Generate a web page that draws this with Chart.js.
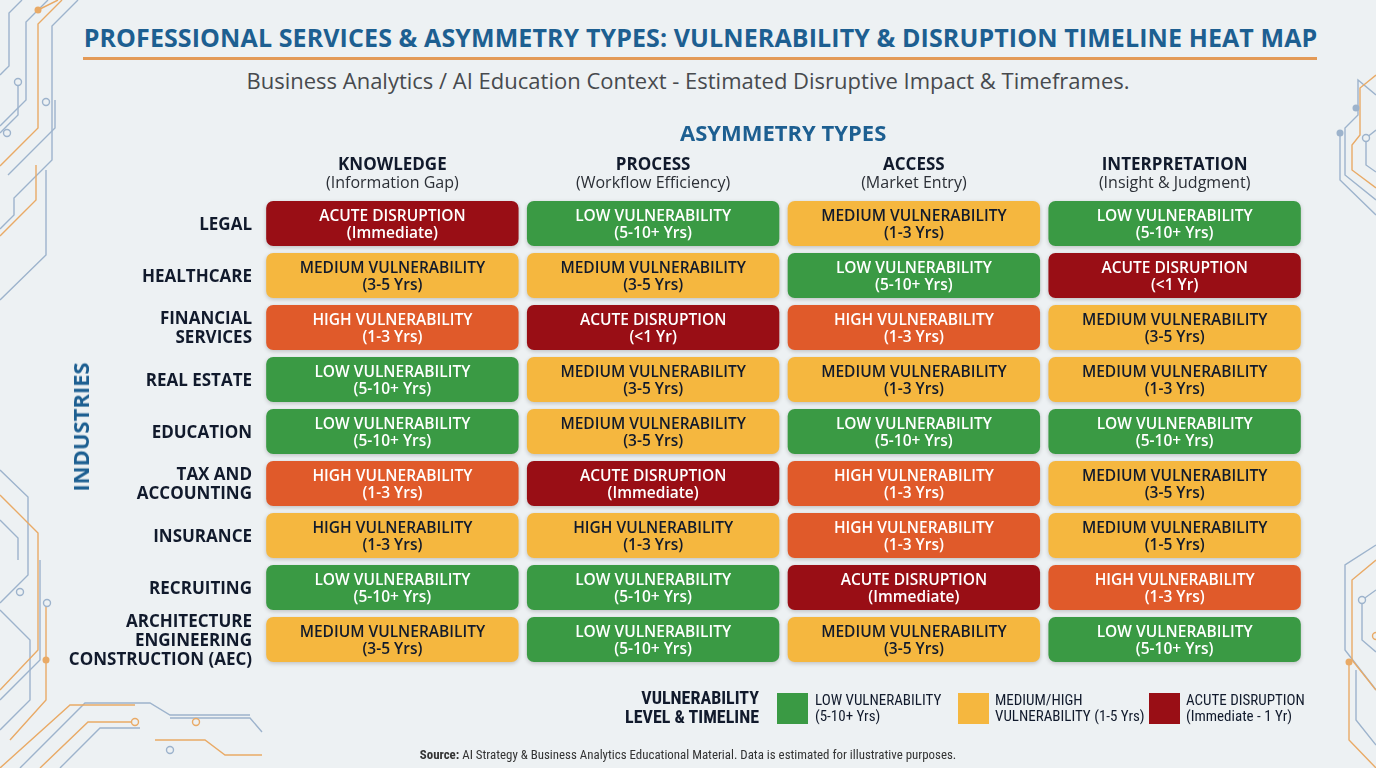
<!DOCTYPE html>
<html>
<head>
<meta charset="utf-8">
<script src="https://cdn.jsdelivr.net/npm/chart.js@4.4.1/dist/chart.umd.min.js"></script>
<style>
  html, body { margin: 0; padding: 0; }
  body { width: 1376px; height: 768px; overflow: hidden; background: #edf1f3; font-family: "Open Sans", sans-serif; }
  #page { position: relative; width: 1376px; height: 768px; }
  #deco { position: absolute; left: 0; top: 0; }
  #heat { position: absolute; left: 0; top: 0; }
  .abs { position: absolute; white-space: nowrap; }
  .title { left: 83px; width: 1235px; top: 20px; text-align: center; font-weight: 700; font-size: 25px; color: #1d5f91; letter-spacing: 0.1px; }
  .rule { left: 83px; top: 57px; width: 1234px; height: 3px; background: #e39a57; }
  .subtitle { left: 0; width: 1376px; top: 65px; text-align: center; font-size: 22px; color: #474a4e; }
  .axis-title { font-weight: 700; font-size: 22px; color: #1d5f91; }
  .legend-title { right: 617px; top: 688px; text-align: right; font-family: "Liberation Sans Narrow", "Roboto Condensed", Roboto, sans-serif; font-weight: 700; font-size: 18px; line-height: 19px; color: #111a2c; }
  .sw { position: absolute; width: 31px; height: 31px; top: 693px; }
  .lt { top: 692px; font-family: "Liberation Sans Narrow", "Roboto Condensed", Roboto, sans-serif; font-size: 15px; line-height: 16px; color: #111a2c; }
  .source { left: 0; width: 1376px; top: 747px; text-align: center; font-family: "Liberation Sans Narrow", "Roboto Condensed", Roboto, sans-serif; font-size: 12.9px; color: #333; }
</style>
</head>
<body>
<div id="page">
  <svg id="deco" width="1376" height="768" fill="none" stroke-width="1.4">
    <g stroke="#9db3cc">
      <path d="M48 0 L26 22 L26 100 L0 126" />
      <path d="M22 0 L9 13 L9 66 L0 75" />
      <path d="M78 0 L52 26 L52 160 L14 198 L14 215 L0 229" />
      <path d="M18 82 L18 115 L0 133" />
      <path d="M55 100 L55 128 L8 175" />
      <path d="M46 170 L46 255 L0 300" />
      <path d="M0 470 L28 497 L28 575 L0 603" />
      <path d="M0 520 L18 538 L18 560" />
      <path d="M0 610 L30 640 L30 700 L0 730" />
      <path d="M40 560 L40 660 L0 700" />
      <path d="M20 768 L85 703 L150 703 L170 715 L250 715" />
      <path d="M60 768 L100 728 L140 728" />
      <path d="M170 718 L250 718 L262 732" />
      <path d="M1376 95 L1358 80 L1358 115 L1345 128 L1345 175 L1376 200" />
      <path d="M1376 130 L1366 138 L1366 165 L1376 172" />
      <path d="M1340 133 L1340 180 L1376 215" />
      <path d="M1376 545 L1345 565 L1345 650 L1376 690" />
      <path d="M1376 590 L1362 600 L1362 640 L1376 652" />
      <path d="M1356 670 L1356 720 L1376 745" />
    </g>
    <g stroke="#e9aa66">
      <path d="M62 0 L38 24 L38 128 L0 166" />
      <path d="M38 10 L58 0" />
      <path d="M36 165 L36 200 L0 236" />
      <path d="M0 495 L38 533 L38 650 L0 690" />
      <path d="M46 605 L46 700 L10 740" />
      <path d="M0 768 L70 705 L135 705" />
      <path d="M40 768 L88 722 L135 722" />
      <path d="M155 740 L205 740 L225 755 L262 755" />
      <path d="M1376 75 L1360 88 L1360 135 L1352 145 L1352 170 L1376 188" />
      <path d="M1376 560 L1352 580 L1352 660 L1376 690" />
      <path d="M1349 665 L1349 740 L1376 768" />
    </g>
    <g fill="#edf1f3" stroke="#9db3cc">
      <circle cx="18" cy="82" r="3.5" />
      <circle cx="7" cy="133" r="3.5" />
      <circle cx="46" cy="102" r="3.5" />
      <circle cx="20" cy="592" r="3.5" />
      <circle cx="47" cy="603" r="3.5" />
      <circle cx="170" cy="750" r="3.5" />
      <circle cx="1366" cy="138" r="3.5" />
      <circle cx="1362" cy="600" r="3.5" />
    </g>
    <g fill="#e9aa66" stroke="none">
      <circle cx="38" cy="10" r="3.5" />
      <circle cx="46" cy="660" r="3.5" />
      <circle cx="1349" cy="662" r="3.5" />
    </g>
    <g fill="#9db3cc" stroke="none">
      <circle cx="1356" cy="108" r="3.5" />
      <circle cx="1340" cy="133" r="3.5" />
    </g>
    <g fill="#edf1f3" stroke="#e9aa66">
      <circle cx="135" cy="722" r="3.5" />
      <circle cx="196" cy="722" r="3.5" />
      <circle cx="1376" cy="636" r="3.5" />
    </g>
  </svg>

  <div class="abs title">PROFESSIONAL SERVICES &amp; ASYMMETRY TYPES: VULNERABILITY &amp; DISRUPTION TIMELINE HEAT MAP</div>
  <div class="abs rule"></div>
  <div class="abs subtitle">Business Analytics / AI Education Context - Estimated Disruptive Impact &amp; Timeframes.</div>

  <canvas id="heat" width="1376" height="768"></canvas>

  <div class="abs axis-title" style="left:680px; top:117px;">ASYMMETRY TYPES</div>
  <div class="abs axis-title" style="left:80px; top:427px; transform: translate(-50%, -50%) rotate(-90deg);">INDUSTRIES</div>

  <div class="abs legend-title">VULNERABILITY<br>LEVEL &amp; TIMELINE</div>
  <div class="sw" id="sw0" style="left:777px;"></div>
  <div class="abs lt" style="left:815px;">LOW VULNERABILITY<br>(5-10+ Yrs)</div>
  <div class="sw" id="sw1" style="left:958px;"></div>
  <div class="abs lt" style="left:995px;">MEDIUM/HIGH<br>VULNERABILITY (1-5 Yrs)</div>
  <div class="sw" id="sw2" style="left:1149px;"></div>
  <div class="abs lt" style="left:1186px;">ACUTE DISRUPTION<br>(Immediate - 1 Yr)</div>

  <div class="abs source"><b>Source:</b> AI Strategy &amp; Business Analytics Educational Material. Data is estimated for illustrative purposes.</div>
</div>

<script>
// rows / columns
const industries = [
  'LEGAL',
  'HEALTHCARE',
  'FINANCIAL\nSERVICES',
  'REAL ESTATE',
  'EDUCATION',
  'TAX AND\nACCOUNTING',
  'INSURANCE',
  'RECRUITING',
  'ARCHITECTURE\nENGINEERING\nCONSTRUCTION (AEC)'
]
const asymmetryTypes = ['KNOWLEDGE', 'PROCESS', 'ACCESS', 'INTERPRETATION']
const asymmetryNotes = ['(Information Gap)', '(Workflow Efficiency)', '(Market Entry)', '(Insight & Judgment)']

// colour level of each cell: 0 low, 1 medium, 2 high, 3 acute
const levelScores = [
  [3, 0, 1, 0],
  [1, 1, 0, 3],
  [2, 3, 2, 1],
  [0, 1, 1, 1],
  [0, 1, 0, 0],
  [2, 3, 2, 1],
  [1, 1, 2, 1],
  [0, 0, 3, 2],
  [1, 0, 1, 0]
]
const ratingLabels = [
  ['ACUTE DISRUPTION', 'LOW VULNERABILITY', 'MEDIUM VULNERABILITY', 'LOW VULNERABILITY'],
  ['MEDIUM VULNERABILITY', 'MEDIUM VULNERABILITY', 'LOW VULNERABILITY', 'ACUTE DISRUPTION'],
  ['HIGH VULNERABILITY', 'ACUTE DISRUPTION', 'HIGH VULNERABILITY', 'MEDIUM VULNERABILITY'],
  ['LOW VULNERABILITY', 'MEDIUM VULNERABILITY', 'MEDIUM VULNERABILITY', 'MEDIUM VULNERABILITY'],
  ['LOW VULNERABILITY', 'MEDIUM VULNERABILITY', 'LOW VULNERABILITY', 'LOW VULNERABILITY'],
  ['HIGH VULNERABILITY', 'ACUTE DISRUPTION', 'HIGH VULNERABILITY', 'MEDIUM VULNERABILITY'],
  ['HIGH VULNERABILITY', 'HIGH VULNERABILITY', 'HIGH VULNERABILITY', 'MEDIUM VULNERABILITY'],
  ['LOW VULNERABILITY', 'LOW VULNERABILITY', 'ACUTE DISRUPTION', 'HIGH VULNERABILITY'],
  ['MEDIUM VULNERABILITY', 'LOW VULNERABILITY', 'MEDIUM VULNERABILITY', 'LOW VULNERABILITY']
]
const timelines = [
  ['(Immediate)', '(5-10+ Yrs)', '(1-3 Yrs)', '(5-10+ Yrs)'],
  ['(3-5 Yrs)', '(3-5 Yrs)', '(5-10+ Yrs)', '(<1 Yr)'],
  ['(1-3 Yrs)', '(<1 Yr)', '(1-3 Yrs)', '(3-5 Yrs)'],
  ['(5-10+ Yrs)', '(3-5 Yrs)', '(1-3 Yrs)', '(1-3 Yrs)'],
  ['(5-10+ Yrs)', '(3-5 Yrs)', '(5-10+ Yrs)', '(5-10+ Yrs)'],
  ['(1-3 Yrs)', '(Immediate)', '(1-3 Yrs)', '(3-5 Yrs)'],
  ['(1-3 Yrs)', '(1-3 Yrs)', '(1-3 Yrs)', '(1-5 Yrs)'],
  ['(5-10+ Yrs)', '(5-10+ Yrs)', '(Immediate)', '(1-3 Yrs)'],
  ['(3-5 Yrs)', '(5-10+ Yrs)', '(3-5 Yrs)', '(5-10+ Yrs)']
]

const levelColors = ['#3a9a44', '#f5b73f', '#e05a2a', '#990e15']
const navy = '#111a2c'
const cellGap = 0.016

document.querySelector('#sw0').style.background = levelColors[0]
document.querySelector('#sw1').style.background = levelColors[1]
document.querySelector('#sw2').style.background = levelColors[3]

const datasets = asymmetryTypes.map((type, j) => ({
  label: type,
  data: industries.map(() => [j + cellGap, j + 1 - cellGap]),
  backgroundColor: industries.map((_, i) => levelColors[levelScores[i][j]]),
  borderRadius: 7,
  borderSkipped: false,
  grouped: false,
  categoryPercentage: 0.865,
  barPercentage: 1,
  clip: false
}))

const heatText = {
  id: 'heatText',
  beforeDatasetsDraw(chart) {
    const ctx = chart.ctx
    ctx.save()
    ctx.shadowColor = 'rgba(0,0,0,0.2)'
    ctx.shadowBlur = 4
    ctx.shadowOffsetY = 1.5
  },
  afterDatasetsDraw(chart) {
    const ctx = chart.ctx
    ctx.restore()
    ctx.save()
    ctx.textAlign = 'center'
    ctx.textBaseline = 'middle'
    chart.data.datasets.forEach((ds, j) => {
      chart.getDatasetMeta(j).data.forEach((bar, i) => {
        const cx = (bar.x + bar.base) / 2
        ctx.fillStyle = levelScores[i][j] === 1 ? navy : '#ffffff'
        ctx.font = '600 15.5px "Open Sans"'
        ctx.fillText(ratingLabels[i][j], cx, bar.y - 7)
        ctx.fillText(timelines[i][j], cx, bar.y + 10)
      })
    })
    ctx.restore()
  },
  afterDraw(chart) {
    const ctx = chart.ctx
    const xs = chart.scales.x
    const ys = chart.scales.y
    ctx.save()
    ctx.fillStyle = navy
    ctx.textBaseline = 'middle'
    // row labels
    ctx.textAlign = 'right'
    ctx.font = '700 17px "Open Sans"'
    industries.forEach((name, i) => {
      const lines = name.split('\n')
      const y0 = ys.getPixelForValue(i) + 1.5 - (lines.length - 1) * 19 / 2
      lines.forEach((l, k) => ctx.fillText(l, chart.chartArea.left - 10, y0 + k * 19))
    })
    // column headers
    ctx.textAlign = 'center'
    asymmetryTypes.forEach((t, j) => {
      const cx = xs.getPixelForValue(j + 0.5)
      ctx.fillStyle = navy
      ctx.font = '700 17px "Open Sans"'
      ctx.fillText(t, cx, 165.5)
      ctx.fillStyle = '#2b2f36'
      ctx.font = '400 16px "Open Sans"'
      ctx.fillText(asymmetryNotes[j], cx, 183)
    })
    ctx.restore()
  }
}

new Chart(document.getElementById('heat'), {
  type: 'bar',
  data: { labels: industries, datasets: datasets },
  options: {
    indexAxis: 'y',
    responsive: false,
    animation: false,
    layout: { padding: { left: 262, right: 71, top: 197.5, bottom: 102.5 } },
    scales: {
      x: { type: 'linear', min: 0, max: 4, display: false },
      y: { type: 'category', display: false }
    },
    plugins: {
      legend: { display: false },
      tooltip: { enabled: false }
    }
  },
  plugins: [heatText]
})
</script>
</body>
</html>
